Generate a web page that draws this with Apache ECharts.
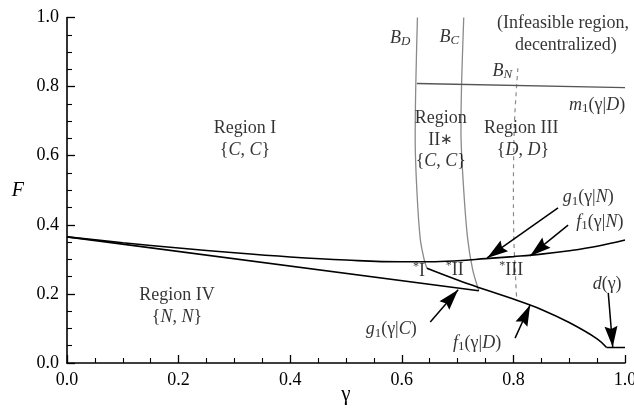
<!DOCTYPE html>
<html><head><meta charset="utf-8">
<script src="https://cdn.jsdelivr.net/npm/echarts@6/dist/echarts.min.js"></script>
<style>html,body{margin:0;padding:0;background:#fff}#c{width:634px;height:408px}</style>
</head><body><div id="c"></div>
<script>
// ---- data ----
const gammaUpper = [0, 0.1, 0.2, 0.3, 0.4, 0.5, 0.6, 0.65, 0.7, 0.75, 0.8, 0.85, 0.9, 0.95, 1.0];
const fUpper     = [0.365, 0.348, 0.333, 0.319, 0.307, 0.298, 0.293, 0.293, 0.296, 0.302, 0.308, 0.315, 0.325, 0.338, 0.356];
const gammaG1C = [0, 0.738];
const fG1C     = [0.365, 0.209];
const gammaF1D = [0.645, 0.7, 0.75, 0.8, 0.85, 0.9, 0.95, 0.967];
const fF1D     = [0.274, 0.240, 0.212, 0.185, 0.155, 0.117, 0.070, 0.045];
const gammaD = [0.967, 1.0];
const fD     = [0.045, 0.045];
const gammaM1 = [0.627, 1.0];
const fM1     = [0.809, 0.797];
const gammaBD = [0.628, 0.625, 0.624, 0.627, 0.633, 0.640, 0.645];
const fBD     = [1.0, 0.8, 0.65, 0.5, 0.36, 0.30, 0.274];
const gammaBC = [0.711, 0.707, 0.706, 0.711, 0.718, 0.727, 0.738];
const fBC     = [1.0, 0.8, 0.67, 0.5, 0.36, 0.27, 0.209];
const gammaBN = [0.808, 0.802, 0.800, 0.801, 0.806];
const fBN     = [0.853, 0.7, 0.5, 0.35, 0.18];
const xTickMin = 0, xTickMax = 1, xTickStep = 0.2;
const yTickMin = 0, yTickMax = 1, yTickStep = 0.2;

// annotations (data coordinates)
const labelX = [0.319, 0.319, 0.670, 0.670, 0.670, 0.814, 0.817, 0.197, 0.197, 0.889, 0.894, 0.597, 0.685, 0.780, 0.950, 0.934, 0.955, 0.631, 0.695, 0.796, 0.581, 0.735, 0.968];
const labelY = [0.680, 0.617, 0.709, 0.645, 0.585, 0.680, 0.617, 0.197, 0.133, 0.984, 0.920, 0.941, 0.944, 0.845, 0.747, 0.480, 0.408, 0.266, 0.269, 0.269, 0.098, 0.058, 0.229];
const labelText = [
  'Region I', '{n|{}{it|C}{n|, }{it|C}{n|}}',
  'Region', 'II{ast|∗}', '{n|{}{it|C}{n|, }{it|C}{n|}}',
  'Region III', '{n|{}{it|D}{n|, }{it|D}{n|}}',
  'Region IV', '{n|{}{it|N}{n|, }{it|N}{n|}}',
  '(Infeasible region,', 'decentralized)',
  '{it|B}{subit|D}', '{it|B}{subit|C}', '{it|B}{subit|N}',
  '{it|m}{sub|1}{n|(γ|}{it|D}{n|)}',
  '{it|g}{sub|1}{n|(γ|}{it|N}{n|)}',
  '{it|f}{sub|1}{n|(γ|}{it|N}{n|)}',
  '{sup|*}{n|I}', '{sup|*}{n|II}', '{sup|*}{n|III}',
  '{it|g}{sub|1}{n|(γ|}{it|C}{n|)}',
  '{it|f}{sub|1}{n|(γ|}{it|D}{n|)}',
  '{it|d}{n|(γ)}'
];
// arrows: tail -> tip
const arrowTailX = [0.880, 0.898, 0.651, 0.803, 0.970];
const arrowTailY = [0.449, 0.399, 0.119, 0.072, 0.203];
const arrowTipX  = [0.753, 0.830, 0.701, 0.830, 0.978];
const arrowTipY  = [0.304, 0.310, 0.212, 0.168, 0.046];

// ---- chart ----
const FONT = '"Liberation Serif", "Times New Roman", serif';
const zip = (a, b) => a.map((v, i) => [v, b[i]]);
const rich = {
  n:     { fontFamily: FONT, fontSize: 18, color: '#000' },
  it:    { fontFamily: FONT, fontSize: 18, fontStyle: 'italic', color: '#000' },
  sub:   { fontFamily: FONT, fontSize: 13, color: '#000', padding: [8, 0, 0, 0] },
  subit: { fontFamily: FONT, fontSize: 13, fontStyle: 'italic', color: '#000', padding: [8, 0, 0, 0] },
  sup:   { fontFamily: FONT, fontSize: 12, color: '#000', padding: [0, 0, 8, 0] },
  ast:   { fontFamily: FONT, fontSize: 15, color: '#000' }
};
const blackLine = { color: '#000', width: 1.6 };
const grayLine = { color: '#8a8a8a', width: 1.3 };
function lineSeries(xs, ys, style, smooth) {
  return { type: 'line', data: zip(xs, ys), symbol: 'none', smooth: smooth || false,
           lineStyle: style, silent: true, z: 3 };
}
const ARROW = 'path://M7,0 L14,22 L7,19 L0,22 Z';

const chart = echarts.init(document.getElementById('c'), null, { renderer: 'canvas' });
const axisCommon = {
  type: 'value',
  nameMoveOverlap: false,
  axisLine: { show: true, onZero: false, lineStyle: { color: '#000', width: 1.6 } },
  axisTick: { show: true, inside: true, length: 8, lineStyle: { color: '#000', width: 1.3 } },
  minorTick: { show: true, splitNumber: 4, length: 5, lineStyle: { color: '#000', width: 1.1 } },
  splitLine: { show: false },
  axisLabel: { color: '#000', fontFamily: FONT, fontSize: 18, margin: 8, formatter: v => v.toFixed(1) }
};
chart.setOption({
  animation: false,
  backgroundColor: '#fff',
  grid: { left: 67, right: 9, top: 17.5, bottom: 45, containLabel: false, outerBoundsMode: 'none' },
  xAxis: Object.assign({}, axisCommon, {
    min: xTickMin, max: xTickMax, interval: xTickStep,
    name: 'γ', nameLocation: 'middle', nameGap: 21,
    nameTextStyle: { fontFamily: FONT, fontSize: 21, color: '#000' }
  }),
  yAxis: Object.assign({}, axisCommon, {
    min: yTickMin, max: yTickMax, interval: yTickStep,
    name: 'F', nameLocation: 'middle', nameGap: 43, nameRotate: 0,
    nameTextStyle: { fontFamily: FONT, fontSize: 20, fontStyle: 'italic', color: '#000' }
  }),
  series: [
    lineSeries(gammaBD, fBD, grayLine, 0.3),
    lineSeries(gammaBC, fBC, grayLine, 0.3),
    lineSeries(gammaBN, fBN, { color: '#8a8a8a', width: 1.2, type: [4, 4] }, 0.3),
    lineSeries(gammaM1, fM1, { color: '#555', width: 1.4 }, false),
    lineSeries(gammaUpper, fUpper, blackLine, 0.4),
    lineSeries(gammaG1C, fG1C, blackLine, false),
    lineSeries(gammaF1D, fF1D, blackLine, 0.4),
    lineSeries(gammaD, fD, blackLine, false),
    {
      type: 'line', data: [], silent: true,
      markLine: {
        silent: true, animation: false,
        symbol: ['none', ARROW], symbolSize: 16,
        label: { show: false },
        lineStyle: { color: '#000', width: 1.5, type: 'solid' },
        emphasis: { disabled: true },
        data: arrowTailX.map((x, i) => [
          { coord: [x, arrowTailY[i]] },
          { coord: [arrowTipX[i], arrowTipY[i]], symbol: ARROW, symbolSize: [13, 21], symbolOffset: [0, 10.5] }
        ])
      }
    },
    {
      type: 'scatter', silent: true, symbolSize: 0, z: 5,
      data: labelX.map((x, i) => ({
        value: [x, labelY[i]],
        label: {
          show: true, position: 'inside', formatter: labelText[i],
          fontFamily: FONT, fontSize: 18, color: '#000', rich: rich
        }
      }))
    }
  ]
});
</script></body></html>
